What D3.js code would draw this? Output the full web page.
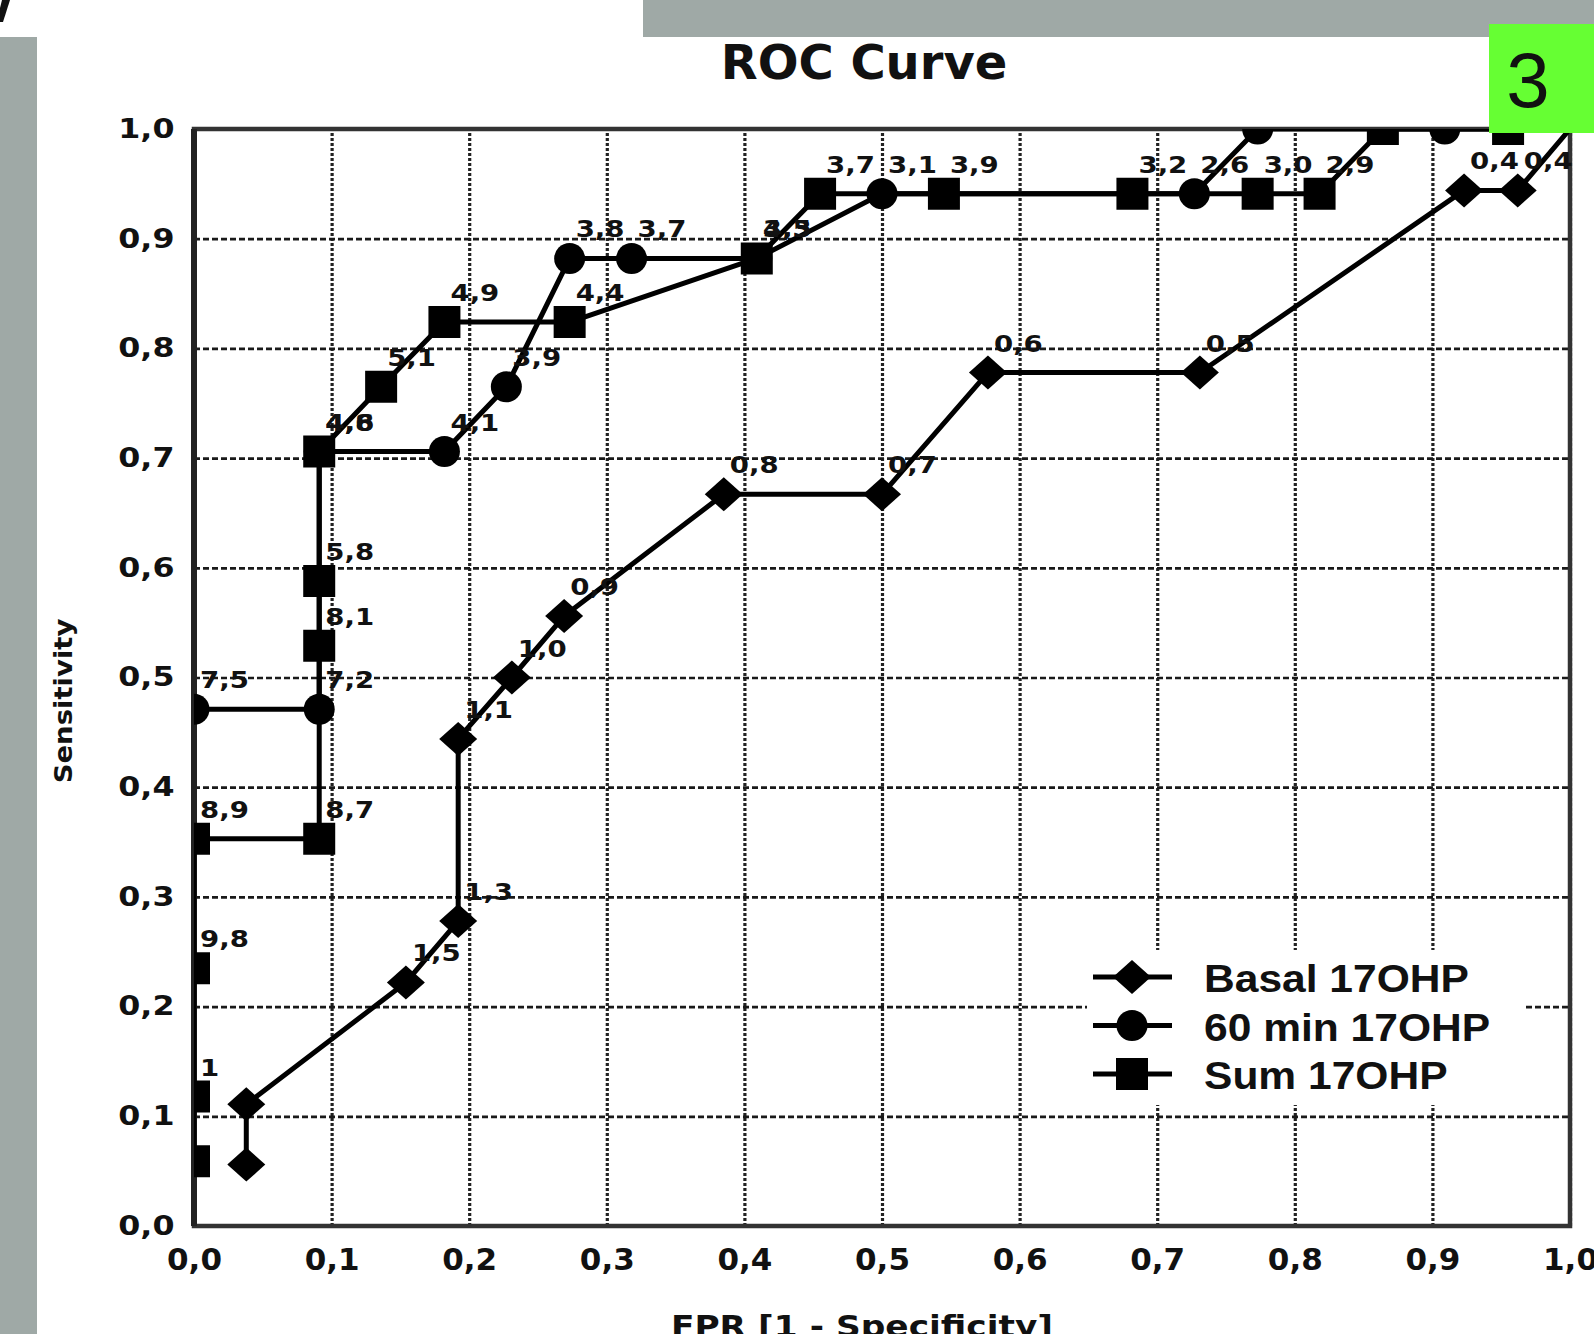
<!DOCTYPE html>
<html>
<head>
<meta charset="utf-8">
<script src="https://cdn.jsdelivr.net/npm/d3@7"></script>
<style>
  html, body { margin: 0; padding: 0; background: #fff; }
  svg { display: block; }
</style>
</head>
<body>
<svg id="roc"></svg>
<script>
// axis ticks
const ticks = [0, 0.1, 0.2, 0.3, 0.4, 0.5, 0.6, 0.7, 0.8, 0.9, 1.0]
const tickLabels = ['0,0', '0,1', '0,2', '0,3', '0,4', '0,5', '0,6', '0,7', '0,8', '0,9', '1,0']

// Basal 17OHP (diamonds)
const basalFpr = [0.038, 0.038, 0.154, 0.192, 0.192, 0.231, 0.269, 0.385, 0.500, 0.577, 0.731, 0.923, 0.962, 1.0]
const basalTpr = [0.056, 0.111, 0.222, 0.278, 0.444, 0.500, 0.556, 0.667, 0.667, 0.778, 0.778, 0.944, 0.944, 1.0]
const basalLabels = ['', '', '1,5', '1,3', '1,1', '1,0', '0,9', '0,8', '0,7', '0,6', '0,5', '0,4', '0,4', '']

// 60 min 17OHP (circles)
const min60Fpr = [0, 0.091, 0.091, 0.182, 0.227, 0.273, 0.318, 0.409, 0.500, 0.727, 0.773, 0.909, 1.0]
const min60Tpr = [0.471, 0.471, 0.706, 0.706, 0.765, 0.882, 0.882, 0.882, 0.941, 0.941, 1.0, 1.0, 1.0]
const min60Labels = ['7,5', '7,2', '4,8', '4,1', '3,9', '3,8', '3,7', '3,5', '3,1', '2,6', '', '', '']

// Sum 17OHP (squares)
const sumFpr = [0, 0, 0, 0, 0.091, 0.091, 0.091, 0.091, 0.136, 0.182, 0.273, 0.409, 0.455, 0.545, 0.682, 0.773, 0.818, 0.864, 0.955, 1.0]
const sumTpr = [0.059, 0.118, 0.235, 0.353, 0.353, 0.529, 0.588, 0.706, 0.765, 0.824, 0.824, 0.882, 0.941, 0.941, 0.941, 0.941, 0.941, 1.0, 1.0, 1.0]
const sumLabels = ['', '1', '9,8', '8,9', '8,7', '8,1', '5,8', '4,6', '5,1', '4,9', '4,4', '4,3', '3,7', '3,9', '3,2', '3,0', '2,9', '', '', '']

const legendNames = ['Basal 17OHP', '60 min 17OHP', 'Sum 17OHP']
const shapes = ['diamond', 'circle', 'square']

buildRoc()

function marker(shape) {
    if (shape === 'diamond') return 'M-19,0L0,-17L19,0L0,17Z'
    if (shape === 'circle') return 'M-15.5,0A15.5,15.5 0 1,0 15.5,0A15.5,15.5 0 1,0 -15.5,0Z'
    return 'M-16,-16H16V16H-16Z'
}

function buildRoc() {

    const width = 1594
    const height = 1334
    const left = 194, right = 1570, top = 129, bottom = 1226
    const gray = '#9fa9a6'

    const svg = d3.select('#roc')
        .attr('width', width)
        .attr('height', height)

    svg.append('rect')
        .attr('width', width)
        .attr('height', height)
        .style('fill', '#fff')

    // slide bands
    svg.append('rect')
        .attr('x', 643).attr('y', 0)
        .attr('width', width - 643).attr('height', 37)
        .style('fill', gray)
    svg.append('rect')
        .attr('x', 0).attr('y', 37)
        .attr('width', 37).attr('height', height - 37)
        .style('fill', gray)
    svg.append('path')
        .attr('d', 'M2,0H10L3,22H0V8Z')
        .style('fill', '#111')

    const x = d3.scaleLinear().domain([0, 1]).range([left, right])
    const y = d3.scaleLinear().domain([0, 1]).range([bottom, top])

    // grid
    svg.append('g')
        .attr('transform', `translate(0,${bottom})`)
        .call(d3.axisBottom(x).tickValues(ticks).tickSize(-(bottom - top)).tickFormat(''))
        .call(g => g.select('.domain').remove())
        .selectAll('line')
        .style('stroke', '#222')
        .style('stroke-width', 3.2)
        .style('stroke-dasharray', '3,2')

    svg.append('g')
        .attr('transform', `translate(${left},0)`)
        .call(d3.axisLeft(y).tickValues(ticks).tickSize(-(right - left)).tickFormat(''))
        .call(g => g.select('.domain').remove())
        .selectAll('line')
        .style('stroke', '#1a1a1a')
        .style('stroke-width', 2.7)
        .style('stroke-dasharray', '6,3')

    // tick labels
    svg.append('g')
        .attr('transform', `translate(0,${bottom})`)
        .call(d3.axisBottom(x).tickValues(ticks).tickSize(0).tickPadding(22).tickFormat((d, i) => tickLabels[i]))
        .call(g => g.select('.domain').remove())
        .selectAll('text')
        .style('font-family', '"DejaVu Sans", sans-serif')
        .style('font-weight', 'bold')
        .style('font-size', '31px')
        .style('fill', '#111')

    svg.append('g')
        .attr('transform', `translate(${left},0)`)
        .call(d3.axisLeft(y).tickValues(ticks).tickSize(0).tickPadding(16).tickFormat((d, i) => tickLabels[i]))
        .call(g => g.select('.domain').remove())
        .selectAll('text')
        .attr('transform', 'scale(1.22,1)')
        .style('font-family', '"DejaVu Sans", sans-serif')
        .style('font-weight', 'bold')
        .style('font-size', '26px')
        .style('fill', '#111')

    // frame
    svg.append('rect')
        .attr('x', left).attr('y', top)
        .attr('width', right - left).attr('height', bottom - top)
        .style('fill', 'none')
        .style('stroke', '#333')
        .style('stroke-width', 4.5)
    svg.append('line')
        .attr('x1', left).attr('x2', left)
        .attr('y1', top).attr('y2', bottom)
        .style('stroke', '#222')
        .style('stroke-width', 6)

    // titles
    svg.append('text')
        .attr('x', 864).attr('y', 79)
        .attr('text-anchor', 'middle')
        .style('font-family', '"DejaVu Sans", sans-serif')
        .style('font-weight', 'bold')
        .style('font-size', '48px')
        .style('fill', '#111')
        .text('ROC Curve')

    svg.append('text')
        .attr('transform', 'translate(862,1337) scale(1.11,1)')
        .attr('text-anchor', 'middle')
        .style('font-family', '"DejaVu Sans", sans-serif')
        .style('font-weight', 'bold')
        .style('font-size', '31px')
        .style('fill', '#111')
        .text('FPR [1 - Specificity]')

    svg.append('text')
        .attr('transform', 'translate(72,701) rotate(-90) scale(1.1,1)')
        .attr('text-anchor', 'middle')
        .style('font-family', '"DejaVu Sans", sans-serif')
        .style('font-weight', 'bold')
        .style('font-size', '25px')
        .style('fill', '#111')
        .text('Sensitivity')

    // series
    const series = [
        { fpr: basalFpr, tpr: basalTpr, labels: basalLabels },
        { fpr: min60Fpr, tpr: min60Tpr, labels: min60Labels },
        { fpr: sumFpr, tpr: sumTpr, labels: sumLabels }
    ].map((s, k) => ({
        shape: shapes[k],
        points: s.fpr.map((f, i) => ({ x: f, y: s.tpr[i], label: s.labels[i] }))
    }))

    svg.append('clipPath').attr('id', 'plot-clip')
        .append('rect')
        .attr('x', left).attr('y', top)
        .attr('width', right - left).attr('height', bottom - top)

    const plot = svg.append('g').attr('clip-path', 'url(#plot-clip)')

    // point labels sit under the lines
    series.forEach(s => {
        svg.append('g')
            .selectAll('text')
            .data(s.points.filter(p => p.label))
            .join('text')
            .attr('transform', p => `translate(${x(p.x) + 6},${y(p.y) - 21}) scale(1.2,1)`)
            .style('font-family', '"DejaVu Sans", sans-serif')
            .style('font-weight', 'bold')
            .style('font-size', '23px')
            .style('fill', '#111')
            .text(p => p.label)
    })

    const line = d3.line().x(p => x(p.x)).y(p => y(p.y))

    series.forEach(s => {
        plot.append('path')
            .datum(s.points)
            .attr('d', line)
            .style('fill', 'none')
            .style('stroke', '#000')
            .style('stroke-width', 5)
            .style('stroke-linejoin', 'round')

        plot.append('g')
            .selectAll('path')
            .data(s.points.filter(p => !(p.x === 1 && p.y === 1)))
            .join('path')
            .attr('transform', p => `translate(${x(p.x)},${y(p.y)})`)
            .attr('d', marker(s.shape))
            .style('fill', '#000')
    })

    // legend
    svg.append('rect')
        .attr('x', 1087).attr('y', 950)
        .attr('width', 437).attr('height', 155)
        .style('fill', '#fff')

    const legend = svg.append('g')
        .selectAll('g')
        .data(legendNames)
        .join('g')
        .attr('transform', (d, i) => `translate(1132,${977 + i * 48.5})`)

    legend.append('line')
        .attr('x1', -39).attr('x2', 40)
        .style('stroke', '#000')
        .style('stroke-width', 5)

    legend.append('path')
        .attr('d', (d, i) => marker(shapes[i]))
        .style('fill', '#000')

    legend.append('text')
        .attr('transform', 'translate(72,15) scale(1.12,1)')
        .style('font-family', '"Liberation Sans", Arial, sans-serif')
        .style('font-weight', 'bold')
        .style('font-size', '38px')
        .style('fill', '#111')
        .text(d => d)

    // slide number badge
    svg.append('rect')
        .attr('x', 1489).attr('y', 24)
        .attr('width', width - 1489).attr('height', 109)
        .style('fill', '#66ff33')
    svg.append('text')
        .attr('x', 1528).attr('y', 107)
        .attr('text-anchor', 'middle')
        .style('font-family', '"Liberation Sans", Arial, sans-serif')
        .style('font-size', '78px')
        .style('fill', '#111')
        .text('3')
}
</script>
</body>
</html>
